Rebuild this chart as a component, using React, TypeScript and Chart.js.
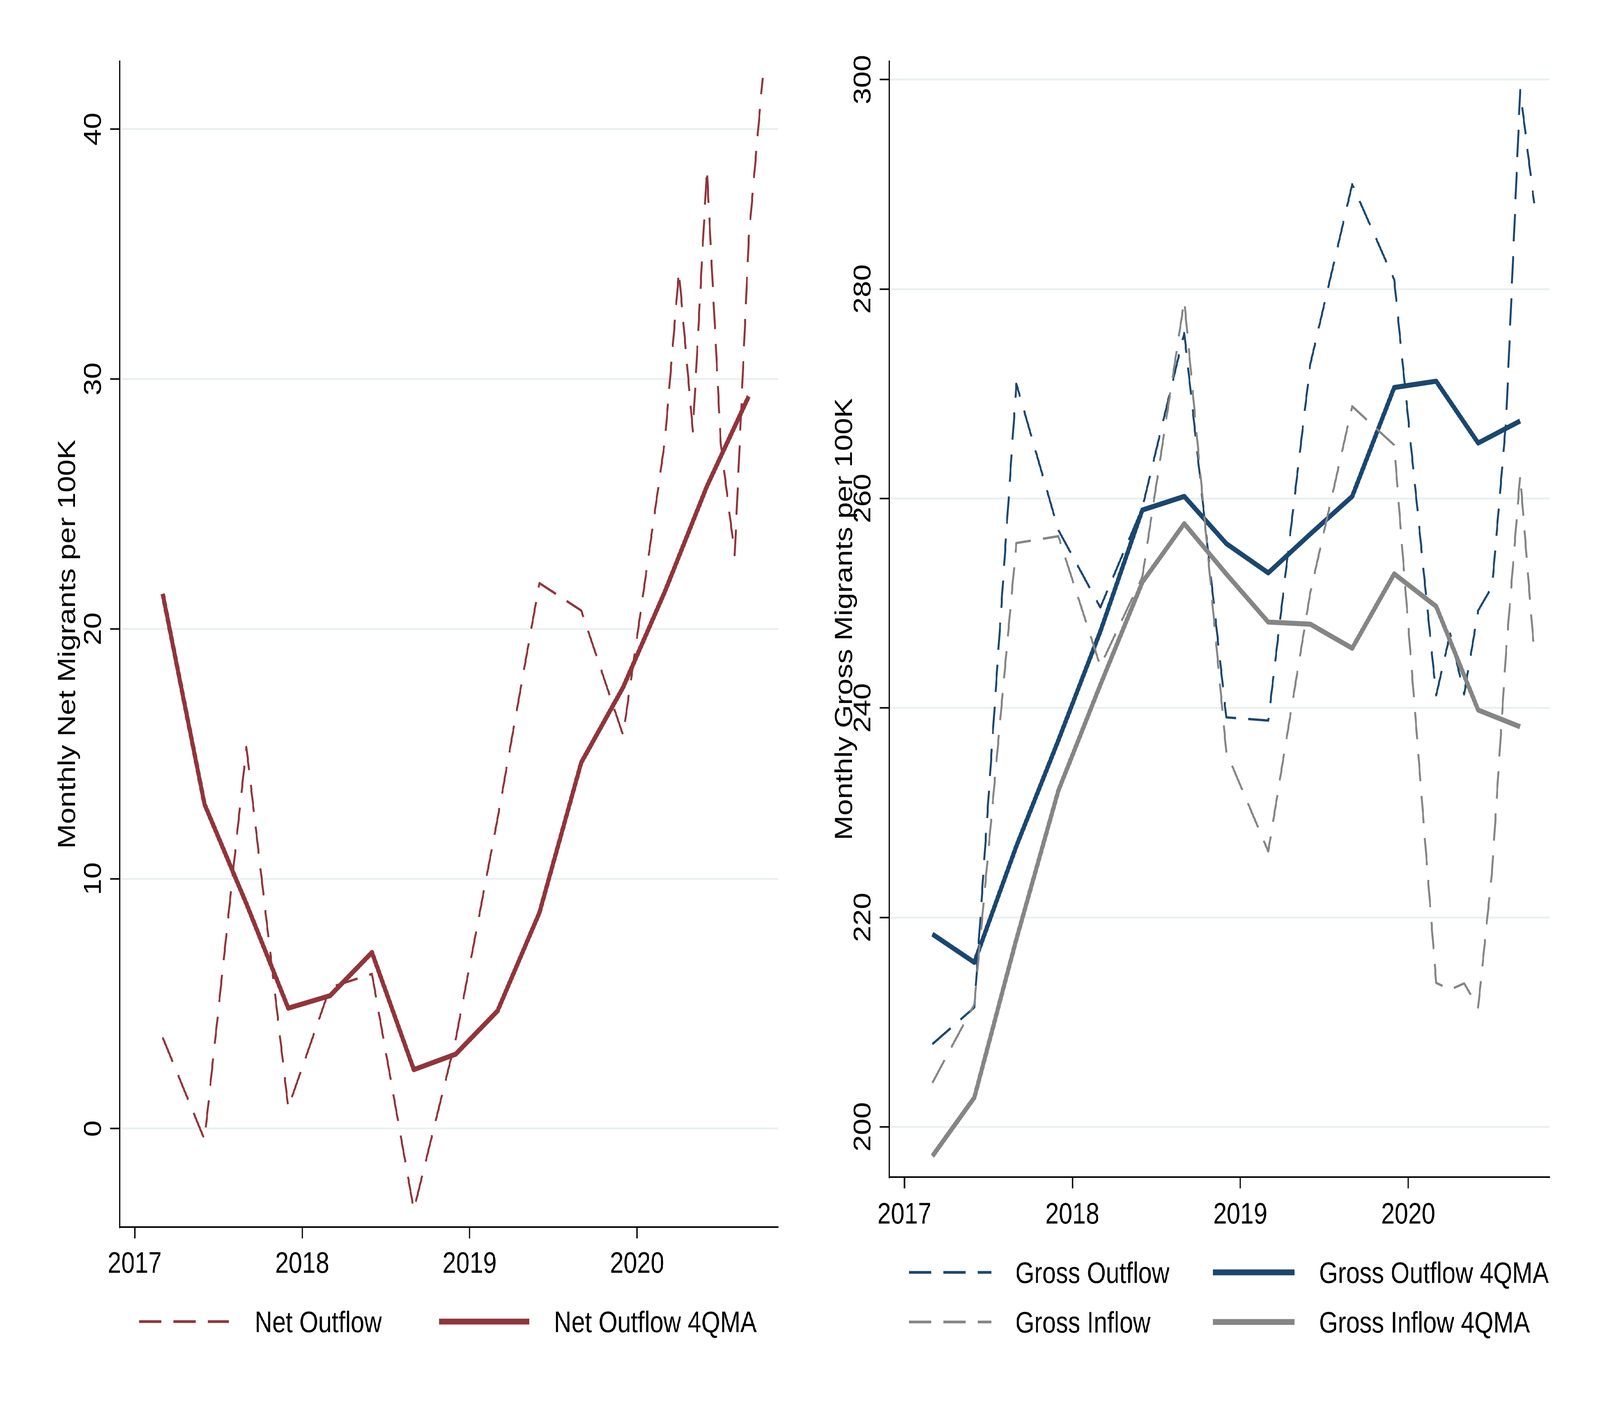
import { useEffect, useRef, useState } from "react";
import { Chart, LineController, LineElement, PointElement, LinearScale } from "chart.js";

Chart.register(LineController, LineElement, PointElement, LinearScale);

// quarter-end months, then monthly from March 2020
const flowDates = [
  "2017-03", "2017-06", "2017-09", "2017-12",
  "2018-03", "2018-06", "2018-09", "2018-12",
  "2019-03", "2019-06", "2019-09", "2019-12",
  "2020-03", "2020-04", "2020-05", "2020-06", "2020-07", "2020-08", "2020-09", "2020-10",
];
const maDates = [
  "2017-03", "2017-06", "2017-09", "2017-12",
  "2018-03", "2018-06", "2018-09", "2018-12",
  "2019-03", "2019-06", "2019-09", "2019-12",
  "2020-03", "2020-06", "2020-09",
];

const netOutflow = [3.65, -0.44, 15.27, 0.84, 5.65, 6.19, -3.25, 3.57, 12.4, 21.83, 20.73, 15.74, 27.55, 34.3, 27.9, 38.4, 27.4, 22.95, 35.6, 42.05];
const netOutflow4QMA = [21.4, 12.98, 9.0, 4.82, 5.32, 7.05, 2.36, 2.98, 4.71, 8.64, 14.65, 17.66, 21.5, 25.7, 29.3];

const grossOutflow = [207.9, 211.4, 270.95, 257.0, 249.6, 259.1, 275.8, 239.1, 238.8, 272.8, 290.0, 280.9, 241.2, 247.1, 241.3, 249.3, 251.6, 267.5, 299.0, 288.2];
const grossInflow = [204.2, 211.7, 255.75, 256.4, 244.0, 252.5, 278.9, 235.8, 226.3, 251.0, 268.8, 265.1, 213.75, 213.1, 213.7, 211.4, 224.5, 245.5, 262.2, 245.4];
const grossOutflow4QMA = [218.4, 215.7, 226.8, 236.9, 247.3, 258.9, 260.2, 255.7, 252.9, 256.6, 260.2, 270.6, 271.2, 265.3, 267.4];
const grossInflow4QMA = [197.2, 202.8, 217.9, 232.1, 242.2, 252.0, 257.6, 252.8, 248.2, 248.0, 245.7, 252.8, 249.7, 239.8, 238.2];

const yearTicks = [2017, 2018, 2019, 2020];
const netTicks = [0, 10, 20, 30, 40];
const grossTicks = [200, 220, 240, 260, 280, 300];

const MAROON = "#90353B";
const NAVY = "#1A476F";
const GREY = "#858585";
const GRID = "#EAF0F1";
const FONT = '76px "Liberation Sans", Arial, Helvetica, sans-serif';
const DASH = [70, 38];

// the drawing is laid out on a 5000 x 3636 sheet, then fitted to the window
const SHEET_W = 5000;
const SHEET_H = 3636;

const toYear = (d: string) => {
  const [y, m] = d.split("-").map(Number);
  return y + (m - 1) / 12;
};
const pts = (dates: string[], vals: number[]) => dates.map((d, i) => ({ x: toYear(d), y: vals[i] }));

type LegendItem = { ds: number; sx: number; sw: number; tx: number; y: number; lw: number };
type PanelText = { yTitle: string; yTitleX: number; yLabelX: number; xLabelY: number; legend: LegendItem[] };

function rotated(ctx: CanvasRenderingContext2D, text: string, x: number, y: number) {
  ctx.save();
  ctx.translate(x, y);
  ctx.rotate(-Math.PI / 2);
  ctx.textAlign = "center";
  ctx.fillText(text, 0, 0);
  ctx.restore();
}

// Stata-like text: rotated y labels/title, x labels, legend under the plot
const stataText = {
  id: "stataText",
  afterDraw(chart: any, _args: unknown, o: PanelText) {
    const { ctx, chartArea } = chart;
    const xs = chart.scales.x;
    const ys = chart.scales.y;
    ctx.save();
    ctx.font = FONT;
    ctx.fillStyle = "#000";
    ctx.textBaseline = "alphabetic";
    ctx.textAlign = "center";
    for (const t of xs.ticks) ctx.fillText(String(t.value), xs.getPixelForValue(t.value), o.xLabelY);
    for (const t of ys.ticks) rotated(ctx, String(t.value), o.yLabelX, ys.getPixelForValue(t.value));
    rotated(ctx, o.yTitle, o.yTitleX, (chartArea.top + chartArea.bottom) / 2);

    for (const it of o.legend) {
      const ds = chart.data.datasets[it.ds];
      ctx.save();
      ctx.strokeStyle = ds.borderColor;
      ctx.lineWidth = it.lw;
      ctx.lineCap = "butt";
      ctx.setLineDash(ds.borderDash || []);
      ctx.beginPath();
      ctx.moveTo(it.sx, it.y);
      ctx.lineTo(it.sx + it.sw, it.y);
      ctx.stroke();
      ctx.restore();
      ctx.textAlign = "left";
      ctx.fillText(ds.label, it.tx, it.y + 27);
    }
    ctx.restore();
  },
};

function dashed(label: string, color: string, dates: string[], vals: number[], order: number) {
  return {
    label,
    data: pts(dates, vals),
    borderColor: color,
    borderWidth: 6,
    borderDash: DASH,
    borderJoinStyle: "round" as const,
    pointRadius: 0,
    tension: 0,
    order,
  };
}
function solid(label: string, color: string, dates: string[], vals: number[], order: number) {
  return {
    label,
    data: pts(dates, vals),
    borderColor: color,
    borderWidth: 13,
    borderJoinStyle: "round" as const,
    pointRadius: 0,
    tension: 0,
    order,
  };
}

function makeConfig(p: {
  datasets: any[];
  yMin: number;
  yMax: number;
  yTicks: number[];
  padding: { left: number; top: number; right: number; bottom: number };
  text: PanelText;
}) {
  return {
    type: "line" as const,
    data: { datasets: p.datasets },
    plugins: [stataText],
    options: {
      animation: false as const,
      responsive: false,
      devicePixelRatio: 1,
      events: [],
      layout: { padding: p.padding },
      plugins: { stataText: p.text },
      scales: {
        x: {
          type: "linear" as const,
          min: 2016.91,
          max: 2020.843,
          afterBuildTicks: (s: any) => { s.ticks = yearTicks.map((value) => ({ value })); },
          afterFit: (s: any) => { s.height = 0; },
          ticks: { display: false },
          grid: { drawOnChartArea: false, drawTicks: true, tickLength: 29, tickColor: "#000", tickWidth: 4 },
          border: { display: true, color: "#000", width: 4 },
        },
        y: {
          type: "linear" as const,
          min: p.yMin,
          max: p.yMax,
          afterBuildTicks: (s: any) => { s.ticks = p.yTicks.map((value) => ({ value })); },
          afterFit: (s: any) => { s.width = 0; },
          ticks: { display: false },
          grid: { color: GRID, lineWidth: 5, drawTicks: true, tickLength: 30, tickColor: "#000", tickWidth: 4 },
          border: { display: true, color: "#000", width: 4 },
        },
      },
    },
  };
}

function Panel({ left, width, config }: { left: number; width: number; config: any }) {
  const canvasRef = useRef<HTMLCanvasElement>(null);
  const chartRef = useRef<Chart | null>(null);

  useEffect(() => {
    if (!canvasRef.current) return;
    chartRef.current?.destroy();
    chartRef.current = new Chart(canvasRef.current, config);
    return () => chartRef.current?.destroy();
  }, [config]);

  return (
    <canvas
      ref={canvasRef}
      width={width}
      height={SHEET_H}
      style={{ position: "absolute", left, top: 0, width, height: SHEET_H }}
    />
  );
}

const leftConfig = makeConfig({
  datasets: [
    dashed("Net Outflow", MAROON, flowDates, netOutflow, 1),
    solid("Net Outflow 4QMA", MAROON, maDates, netOutflow4QMA, 0),
  ],
  yMin: -3.94,
  yMax: 42.71,
  yTicks: netTicks,
  padding: { left: 374, top: 157, right: 108, bottom: 494 },
  text: {
    yTitle: "Monthly Net Migrants per 100K",
    yTitleX: 234,
    yLabelX: 315,
    xLabelY: 3259,
    legend: [
      { ds: 0, sx: 434, sw: 281, tx: 796, y: 3384, lw: 7 },
      { ds: 1, sx: 1372, sw: 282, tx: 1731, y: 3384, lw: 15 },
    ],
  },
});

const rightConfig = makeConfig({
  datasets: [
    dashed("Gross Outflow", NAVY, flowDates, grossOutflow, 3),
    solid("Gross Outflow 4QMA", NAVY, maDates, grossOutflow4QMA, 2),
    dashed("Gross Inflow", GREY, flowDates, grossInflow, 1),
    solid("Gross Inflow 4QMA", GREY, maDates, grossInflow4QMA, 0),
  ],
  yMin: 195.2,
  yMax: 301.75,
  yTicks: grossTicks,
  padding: { left: 239, top: 157, right: 157, bottom: 622 },
  text: {
    yTitle: "Monthly Gross Migrants per 100K",
    yTitleX: 122,
    yLabelX: 180,
    xLabelY: 3133,
    legend: [
      { ds: 0, sx: 300, sw: 258, tx: 633, y: 3258, lw: 7 },
      { ds: 1, sx: 1250, sw: 256, tx: 1582, y: 3258, lw: 15 },
      { ds: 2, sx: 300, sw: 258, tx: 633, y: 3385, lw: 7 },
      { ds: 3, sx: 1250, sw: 256, tx: 1582, y: 3385, lw: 15 },
    ],
  },
});

export default function App() {
  const [vp, setVp] = useState({ w: window.innerWidth, h: window.innerHeight });
  useEffect(() => {
    const onResize = () => setVp({ w: window.innerWidth, h: window.innerHeight });
    window.addEventListener("resize", onResize);
    return () => window.removeEventListener("resize", onResize);
  }, []);

  return (
    <div style={{ position: "fixed", left: 0, top: 0, width: vp.w, height: vp.h, overflow: "hidden", background: "#fff" }}>
      <div
        style={{
          position: "absolute",
          left: 0,
          top: 0,
          width: SHEET_W,
          height: SHEET_H,
          transform: `scale(${vp.w / SHEET_W}, ${vp.h / SHEET_H})`,
          transformOrigin: "0 0",
        }}
      >
        <Panel left={0} width={2540} config={leftConfig} />
        <Panel left={2540} width={2460} config={rightConfig} />
      </div>
    </div>
  );
}
